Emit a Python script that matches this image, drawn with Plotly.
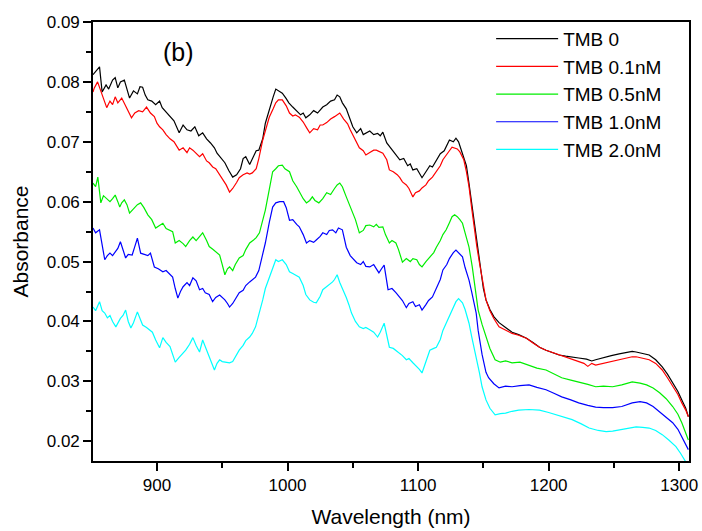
import plotly.graph_objects as go

series_names = ["TMB 0", "TMB 0.1nM", "TMB 0.5nM", "TMB 1.0nM", "TMB 2.0nM"]
series_colors = ["#000000", "#ff0000", "#00ee00", "#0000ff", "#00ffff"]

wl_tmb0 = [851, 853, 856, 858, 861, 863, 866, 868, 870, 872, 875, 879, 882, 885, 887, 889, 891, 893, 896, 899,
           902, 904, 907, 910, 913, 917, 920, 923, 926, 929, 932, 935, 938, 941, 944, 946, 949, 952, 955, 958,
           961, 964, 966, 968, 971, 974, 976, 978, 981, 983, 986, 989, 991, 993, 996, 999, 1001, 1004, 1007, 1010,
           1012, 1014, 1017, 1020, 1023, 1027, 1030, 1033, 1036, 1038, 1040, 1042, 1045, 1048, 1050, 1053, 1056, 1058, 1060, 1063,
           1066, 1069, 1071, 1073, 1076, 1079, 1082, 1084, 1086, 1089, 1092, 1094, 1096, 1099, 1101, 1103, 1106, 1109, 1111, 1114,
           1117, 1120, 1122, 1124, 1127, 1129, 1131, 1134, 1137, 1139, 1141, 1143, 1145, 1148, 1150, 1152, 1155, 1158, 1162, 1167,
           1172, 1177, 1183, 1188, 1193, 1198, 1203, 1208, 1213, 1218, 1223, 1229, 1233, 1236, 1242, 1248, 1254, 1260, 1264, 1267,
           1272, 1277, 1282, 1287, 1291, 1295, 1299, 1302, 1305, 1307]
abs_tmb0 = [0.0812, 0.0818, 0.0825, 0.0783, 0.0795, 0.0788, 0.0803, 0.0807, 0.0790, 0.0800, 0.0803, 0.0773, 0.0785, 0.0780, 0.0792, 0.0791, 0.0778, 0.0770, 0.0768, 0.0762,
            0.0768, 0.0757, 0.0750, 0.0742, 0.0735, 0.0715, 0.0728, 0.0720, 0.0718, 0.0725, 0.0710, 0.0715, 0.0705, 0.0698, 0.0690, 0.0681, 0.0672, 0.0665, 0.0652, 0.0641,
            0.0645, 0.0655, 0.0672, 0.0675, 0.0662, 0.0675, 0.0685, 0.0686, 0.0705, 0.0731, 0.0755, 0.0775, 0.0788, 0.0785, 0.0781, 0.0772, 0.0765, 0.0758, 0.0752, 0.0745,
            0.0748, 0.0740, 0.0745, 0.0752, 0.0748, 0.0758, 0.0762, 0.0768, 0.0770, 0.0778, 0.0775, 0.0765, 0.0755, 0.0735, 0.0725, 0.0715, 0.0722, 0.0712, 0.0715, 0.0718,
            0.0712, 0.0714, 0.0710, 0.0716, 0.0698, 0.0690, 0.0682, 0.0676, 0.0670, 0.0672, 0.0660, 0.0663, 0.0653, 0.0655, 0.0648, 0.0640, 0.0650, 0.0660, 0.0658, 0.0670,
            0.0680, 0.0685, 0.0695, 0.0703, 0.0700, 0.0706, 0.0700, 0.0681, 0.0660, 0.0630, 0.0598, 0.0565, 0.0530, 0.0486, 0.0455, 0.0436, 0.0420, 0.0408, 0.0398, 0.0390,
            0.0382, 0.0378, 0.0372, 0.0365, 0.0357, 0.0352, 0.0348, 0.0344, 0.0342, 0.0340, 0.0339, 0.0337, 0.0334, 0.0336, 0.0340, 0.0343, 0.0346, 0.0348, 0.0350, 0.0349,
            0.0347, 0.0344, 0.0336, 0.0324, 0.0312, 0.0297, 0.0283, 0.0269, 0.0255, 0.0241]

wl_tmb01 = [851, 852, 854.5, 857, 859, 861.5, 864, 866, 868, 870, 873, 876, 878, 880.5, 883, 886, 889, 892, 895, 898,
            900, 902, 904.5, 907, 910, 913, 917, 920, 923, 925, 927.5, 930, 932.6, 935, 938, 940, 942.7, 945, 948, 951,
            953, 955.6, 958, 961, 963, 966, 969, 971, 973, 976, 978, 981, 983, 986, 989, 991, 993, 996, 999, 1001.5,
            1004, 1006, 1009, 1012, 1015, 1017, 1020, 1023, 1025, 1027, 1030, 1033, 1036, 1038, 1040, 1043, 1046, 1048, 1050, 1053,
            1055, 1058, 1060, 1063, 1066, 1068, 1070, 1073, 1076, 1078, 1081, 1084, 1086, 1088, 1091, 1093, 1096, 1098, 1101, 1103,
            1106, 1108, 1111, 1114, 1117, 1119, 1122, 1124, 1126, 1128, 1130, 1132, 1135, 1137, 1139, 1141, 1143, 1145, 1147, 1149,
            1152, 1155, 1158, 1162, 1167, 1172, 1177, 1183, 1188, 1193, 1198, 1203, 1208, 1213, 1218, 1223, 1227, 1230, 1233, 1236,
            1242, 1248, 1254, 1260, 1264, 1267, 1272, 1277, 1282, 1287, 1291, 1295, 1299, 1302, 1305, 1307]
abs_tmb01 = [0.0783, 0.0790, 0.0800, 0.0785, 0.0770, 0.0757, 0.0768, 0.0762, 0.0775, 0.0765, 0.0773, 0.0760, 0.0752, 0.0740, 0.0748, 0.0752, 0.0750, 0.0758, 0.0748, 0.0742,
             0.0731, 0.0725, 0.0720, 0.0712, 0.0705, 0.0700, 0.0686, 0.0690, 0.0682, 0.0690, 0.0686, 0.0680, 0.0675, 0.0680, 0.0668, 0.0665, 0.0658, 0.0655, 0.0645, 0.0635,
             0.0628, 0.0616, 0.0622, 0.0632, 0.0640, 0.0645, 0.0648, 0.0646, 0.0648, 0.0655, 0.0672, 0.0703, 0.0720, 0.0741, 0.0755, 0.0765, 0.0770, 0.0770, 0.0760, 0.0748,
             0.0743, 0.0745, 0.0741, 0.0733, 0.0722, 0.0715, 0.0722, 0.0720, 0.0728, 0.0728, 0.0732, 0.0738, 0.0742, 0.0745, 0.0748, 0.0738, 0.0730, 0.0720, 0.0711, 0.0700,
             0.0690, 0.0685, 0.0678, 0.0682, 0.0686, 0.0686, 0.0684, 0.0681, 0.0670, 0.0653, 0.0650, 0.0645, 0.0640, 0.0633, 0.0628, 0.0622, 0.0608, 0.0615, 0.0618, 0.0623,
             0.0628, 0.0635, 0.0641, 0.0650, 0.0660, 0.0670, 0.0678, 0.0685, 0.0691, 0.0690, 0.0688, 0.0683, 0.0670, 0.0650, 0.0625, 0.0590, 0.0555, 0.0525, 0.0498, 0.0470,
             0.0436, 0.0418, 0.0405, 0.0391, 0.0386, 0.0380, 0.0377, 0.0372, 0.0364, 0.0357, 0.0352, 0.0348, 0.0345, 0.0341, 0.0337, 0.0333, 0.0330, 0.0325, 0.0330, 0.0327,
             0.0330, 0.0333, 0.0336, 0.0339, 0.0341, 0.0341, 0.0339, 0.0336, 0.0330, 0.0319, 0.0306, 0.0291, 0.0278, 0.0264, 0.0252, 0.0241]

wl_tmb05 = [851, 853, 854.7, 857, 859, 861, 864, 866, 868, 870, 871.5, 873, 875, 877, 879, 882, 885, 887.5, 890, 893,
            896, 899, 902, 904.5, 907, 910, 912, 914, 917, 920, 922, 925, 927.5, 930, 932, 935, 938, 940, 943, 946,
            948, 950, 952, 954, 955.6, 958, 960, 963, 966, 968, 971, 974, 976, 978.5, 981, 983, 986, 988.6, 991, 993,
            996, 998, 1001.5, 1004, 1007, 1010, 1012, 1014.5, 1017, 1019, 1021, 1024, 1027, 1030, 1033, 1036, 1038, 1040, 1042, 1045,
            1047, 1050, 1052, 1055, 1058, 1060, 1063, 1066, 1068, 1070, 1073, 1075, 1078, 1080, 1083, 1085, 1088, 1091, 1094, 1096,
            1099, 1101, 1103, 1106, 1109, 1112, 1114, 1117, 1119, 1121.5, 1124, 1126, 1128, 1130, 1132, 1134, 1136, 1139, 1141.5, 1144.5,
            1146, 1149, 1152, 1155, 1159, 1163, 1167, 1172, 1178, 1185, 1191, 1198, 1204, 1210, 1217, 1223, 1230, 1236, 1242, 1249,
            1256, 1264, 1270, 1275, 1280, 1285, 1290, 1295, 1299, 1302, 1305, 1307]
abs_tmb05 = [0.0631, 0.0625, 0.0641, 0.0598, 0.0610, 0.0606, 0.0600, 0.0605, 0.0611, 0.0600, 0.0591, 0.0598, 0.0603, 0.0595, 0.0581, 0.0588, 0.0595, 0.0598, 0.0590, 0.0578,
             0.0570, 0.0556, 0.0560, 0.0564, 0.0555, 0.0552, 0.0550, 0.0531, 0.0535, 0.0530, 0.0525, 0.0535, 0.0541, 0.0535, 0.0540, 0.0548, 0.0535, 0.0525, 0.0520, 0.0515,
             0.0511, 0.0495, 0.0478, 0.0488, 0.0491, 0.0485, 0.0495, 0.0506, 0.0510, 0.0520, 0.0531, 0.0536, 0.0540, 0.0548, 0.0570, 0.0586, 0.0620, 0.0650, 0.0655, 0.0660,
             0.0661, 0.0655, 0.0650, 0.0635, 0.0625, 0.0612, 0.0605, 0.0598, 0.0602, 0.0608, 0.0602, 0.0598, 0.0605, 0.0615, 0.0612, 0.0622, 0.0628, 0.0631, 0.0625, 0.0608,
             0.0598, 0.0581, 0.0570, 0.0548, 0.0552, 0.0560, 0.0561, 0.0558, 0.0562, 0.0557, 0.0558, 0.0545, 0.0531, 0.0535, 0.0531, 0.0520, 0.0499, 0.0505, 0.0500, 0.0505,
             0.0503, 0.0495, 0.0491, 0.0500, 0.0508, 0.0515, 0.0524, 0.0535, 0.0545, 0.0553, 0.0565, 0.0575, 0.0578, 0.0575, 0.0570, 0.0564, 0.0548, 0.0524, 0.0491, 0.0440,
             0.0419, 0.0395, 0.0374, 0.0355, 0.0336, 0.0332, 0.0334, 0.0331, 0.0332, 0.0327, 0.0322, 0.0319, 0.0313, 0.0306, 0.0302, 0.0299, 0.0295, 0.0291, 0.0292, 0.0291,
             0.0294, 0.0299, 0.0297, 0.0294, 0.0289, 0.0281, 0.0271, 0.0258, 0.0245, 0.0231, 0.0215, 0.0202]

wl_tmb10 = [851, 853, 856, 858, 860, 862, 864, 866, 868.5, 870, 872, 874, 876, 878, 881, 883, 885, 887.5, 890, 893,
            895, 898, 901, 904.5, 907, 910, 912, 914, 916, 918, 920, 923, 925, 927.5, 930, 932.6, 935, 937, 940, 942.6,
            945, 948, 950, 952, 954, 955.6, 958, 960, 963, 966, 968, 971, 973, 975.5, 978, 981, 983, 986, 988.6, 991,
            994, 997, 999, 1001.5, 1004, 1007, 1009, 1012, 1014.5, 1017, 1020, 1022, 1025, 1027, 1030, 1032, 1034.5, 1037, 1039, 1042,
            1045, 1048, 1050, 1053, 1056, 1058, 1060, 1063, 1066, 1068, 1070, 1072, 1074, 1077, 1080, 1083, 1086, 1088, 1091, 1093,
            1096, 1098, 1101, 1103, 1106, 1108, 1111, 1114, 1117, 1119, 1122, 1124, 1127, 1129, 1131, 1134, 1136, 1139, 1141, 1144.5,
            1146, 1149, 1152, 1154, 1158, 1162, 1167, 1172, 1178, 1185, 1191, 1198, 1204, 1210, 1217, 1223, 1230, 1236, 1242, 1249,
            1256, 1264, 1270, 1275, 1280, 1285, 1290, 1295, 1299, 1302, 1305, 1307]
abs_tmb10 = [0.0556, 0.0548, 0.0553, 0.0530, 0.0503, 0.0510, 0.0514, 0.0510, 0.0519, 0.0522, 0.0533, 0.0520, 0.0506, 0.0512, 0.0511, 0.0525, 0.0539, 0.0514, 0.0512, 0.0510,
             0.0514, 0.0491, 0.0488, 0.0483, 0.0485, 0.0478, 0.0474, 0.0455, 0.0439, 0.0450, 0.0458, 0.0465, 0.0460, 0.0473, 0.0468, 0.0453, 0.0455, 0.0448, 0.0445, 0.0433,
             0.0440, 0.0444, 0.0440, 0.0436, 0.0430, 0.0424, 0.0430, 0.0438, 0.0448, 0.0452, 0.0460, 0.0466, 0.0470, 0.0474, 0.0485, 0.0510, 0.0531, 0.0565, 0.0591, 0.0598,
             0.0600, 0.0600, 0.0590, 0.0569, 0.0570, 0.0562, 0.0558, 0.0545, 0.0531, 0.0535, 0.0532, 0.0536, 0.0542, 0.0548, 0.0545, 0.0552, 0.0553, 0.0548, 0.0556, 0.0553,
             0.0524, 0.0510, 0.0505, 0.0498, 0.0495, 0.0500, 0.0492, 0.0491, 0.0495, 0.0488, 0.0481, 0.0488, 0.0494, 0.0453, 0.0455, 0.0448, 0.0440, 0.0435, 0.0423, 0.0430,
             0.0433, 0.0425, 0.0428, 0.0419, 0.0428, 0.0435, 0.0441, 0.0455, 0.0470, 0.0486, 0.0495, 0.0505, 0.0515, 0.0519, 0.0515, 0.0508, 0.0490, 0.0469, 0.0450, 0.0414,
             0.0385, 0.0345, 0.0315, 0.0306, 0.0296, 0.0289, 0.0292, 0.0291, 0.0293, 0.0294, 0.0290, 0.0286, 0.0280, 0.0274, 0.0269, 0.0264, 0.0260, 0.0257, 0.0256, 0.0256,
             0.0258, 0.0264, 0.0266, 0.0264, 0.0258, 0.0249, 0.0241, 0.0231, 0.0220, 0.0207, 0.0196, 0.0186]

wl_tmb20 = [851, 853, 856, 858, 860, 862, 864, 866, 868.5, 870, 872, 874, 876, 878, 880, 882, 885, 887, 889, 892,
            894, 896.5, 899, 902, 904.5, 907, 910, 912, 914, 917, 920, 922, 925, 927.5, 930, 932.6, 935, 937, 940, 942,
            944, 946, 948, 950, 953, 955.6, 958, 960, 963, 966, 968, 971, 973, 975.5, 978, 981, 983, 986, 988.6, 991,
            993, 996, 999, 1001.5, 1004, 1007, 1009, 1012, 1014, 1017, 1020, 1022, 1025, 1027, 1030, 1032, 1034.5, 1036, 1038, 1040,
            1042, 1045, 1047, 1049, 1052, 1055, 1058, 1060, 1063, 1066, 1069, 1071, 1074, 1076, 1078, 1081, 1084, 1086, 1088, 1091,
            1093, 1096, 1099, 1101, 1103, 1106, 1109, 1112, 1114, 1117, 1119, 1121.5, 1124, 1127, 1129, 1131, 1134, 1136, 1139, 1141,
            1144.5, 1147, 1149, 1152, 1155, 1159, 1163, 1167, 1172, 1177, 1185, 1193, 1200, 1206, 1212, 1218, 1225, 1231, 1238, 1244,
            1249, 1254, 1260, 1267, 1272, 1277, 1282, 1287, 1292, 1297.5, 1301, 1304, 1306]
abs_tmb20 = [0.0424, 0.0418, 0.0433, 0.0418, 0.0414, 0.0406, 0.0410, 0.0400, 0.0391, 0.0398, 0.0405, 0.0410, 0.0419, 0.0400, 0.0389, 0.0398, 0.0416, 0.0405, 0.0394, 0.0390,
             0.0386, 0.0382, 0.0369, 0.0356, 0.0373, 0.0365, 0.0358, 0.0345, 0.0332, 0.0340, 0.0347, 0.0352, 0.0362, 0.0373, 0.0360, 0.0349, 0.0369, 0.0358, 0.0341, 0.0330,
             0.0319, 0.0330, 0.0336, 0.0333, 0.0332, 0.0331, 0.0333, 0.0340, 0.0352, 0.0360, 0.0368, 0.0374, 0.0380, 0.0391, 0.0410, 0.0436, 0.0455, 0.0474, 0.0490, 0.0503,
             0.0500, 0.0503, 0.0495, 0.0483, 0.0480, 0.0476, 0.0474, 0.0460, 0.0445, 0.0436, 0.0432, 0.0431, 0.0442, 0.0453, 0.0458, 0.0462, 0.0466, 0.0470, 0.0478, 0.0465,
             0.0456, 0.0440, 0.0428, 0.0414, 0.0400, 0.0391, 0.0388, 0.0390, 0.0386, 0.0382, 0.0374, 0.0382, 0.0397, 0.0375, 0.0357, 0.0355, 0.0350, 0.0347, 0.0343, 0.0336,
             0.0338, 0.0331, 0.0325, 0.0320, 0.0314, 0.0335, 0.0352, 0.0355, 0.0357, 0.0370, 0.0385, 0.0397, 0.0410, 0.0425, 0.0433, 0.0438, 0.0431, 0.0420, 0.0397, 0.0375,
             0.0341, 0.0314, 0.0291, 0.0269, 0.0255, 0.0244, 0.0246, 0.0247, 0.0250, 0.0252, 0.0253, 0.0252, 0.0248, 0.0244, 0.0240, 0.0236, 0.0229, 0.0222, 0.0218, 0.0216,
             0.0217, 0.0219, 0.0222, 0.0224, 0.0223, 0.0222, 0.0218, 0.0211, 0.0202, 0.0191, 0.0180, 0.0169, 0.0162]

x_ticks = [900, 1000, 1100, 1200, 1300]
y_ticks = [0.02, 0.03, 0.04, 0.05, 0.06, 0.07, 0.08, 0.09]

wls = [wl_tmb0, wl_tmb01, wl_tmb05, wl_tmb10, wl_tmb20]
absv = [abs_tmb0, abs_tmb01, abs_tmb05, abs_tmb10, abs_tmb20]

FONT = "Arial, Liberation Sans, sans-serif"

fig = go.Figure()
for name, color, x, y in zip(series_names, series_colors, wls, absv):
    fig.add_trace(go.Scatter(x=x, y=y, mode="lines", name=name,
                             line=dict(color=color, width=1.2)))

axis_common = dict(showline=True, linecolor="black", linewidth=1.6, mirror=True,
                   ticks="outside", ticklen=8, tickwidth=1.5, tickcolor="black",
                   showgrid=False, zeroline=False, automargin=False,
                   tickfont=dict(family=FONT, size=17, color="black"))

fig.update_xaxes(range=[851, 1307.5], tickvals=x_ticks, ticktext=[str(v) for v in x_ticks],
                 minor=dict(dtick=50, tick0=850, ticks="outside", ticklen=5, tickwidth=1.5, tickcolor="black"),
                 title=dict(text="Wavelength (nm)", font=dict(family=FONT, size=21, color="black"), standoff=15),
                 **axis_common)
fig.update_yaxes(range=[0.0167, 0.09], tickvals=y_ticks, ticktext=["%.2f" % v for v in y_ticks],
                 minor=dict(dtick=0.005, tick0=0.0, ticks="outside", ticklen=5, tickwidth=1.5, tickcolor="black"),
                 title=dict(text="Absorbance", font=dict(family=FONT, size=21, color="black"), standoff=12),
                 **axis_common)

fig.add_annotation(x=916.5, y=0.0850, text="(b)", showarrow=False,
                   font=dict(family=FONT, size=25, color="black"))

fig.update_layout(
    width=702, height=531,
    margin=dict(l=93, r=13, t=22, b=70),
    plot_bgcolor="white", paper_bgcolor="white",
    legend=dict(x=0.668, y=1.005, xanchor="left", yanchor="top",
                bgcolor="rgba(0,0,0,0)", borderwidth=0,
                font=dict(family=FONT, size=19, color="black"),
                itemwidth=62, tracegroupgap=0),
)

fig.write_html("out.html")
